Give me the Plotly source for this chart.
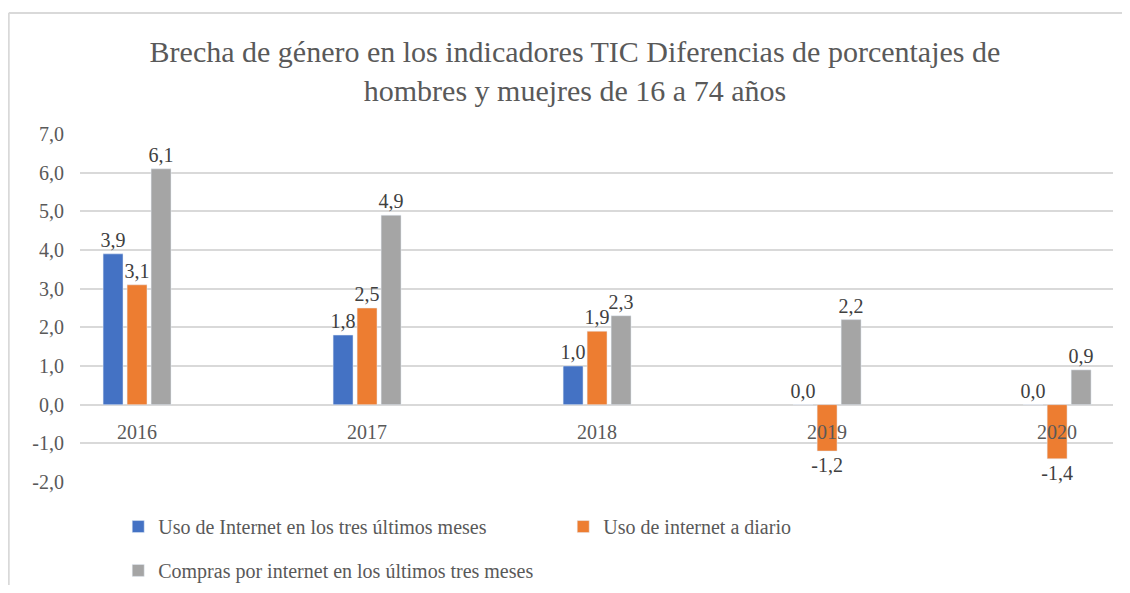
import plotly.graph_objects as go

years = ["2016", "2017", "2018", "2019", "2020"]
uso_3_meses = [3.9, 1.8, 1.0, 0.0, 0.0]
uso_diario = [3.1, 2.5, 1.9, -1.2, -1.4]
compras_3_meses = [6.1, 4.9, 2.3, 2.2, 0.9]

series_names = [
    "Uso de Internet en los tres últimos meses",
    "Uso de internet a diario",
    "Compras por internet en los últimos tres meses",
]
colors = ["#4472C4", "#ED7D31", "#A5A5A5"]
y_ticks = [-2, -1, 0, 1, 2, 3, 4, 5, 6, 7]
y_ticktext = [f"{v:.1f}".replace(".", ",") for v in y_ticks]

SERIF = "Liberation Serif"

fig = go.Figure()
for vals, name, col, leg in zip(
    [uso_3_meses, uso_diario, compras_3_meses], series_names, colors,
    ["legend", "legend", "legend2"]
):
    fig.add_trace(go.Bar(
        x=years, y=vals, name=name, marker_color=col, legend=leg,
        texttemplate="%{y:.1f}", textposition="outside", constraintext="none",
        cliponaxis=False,
        textfont=dict(family=SERIF, size=20, color="#404040"),
    ))

# the page adds an 8px body margin, so figure coords = page coords - 8
frame = dict(color="#D9D9D9", width=2)
fig.update_layout(
    width=1122, height=577,
    separators=",.",
    paper_bgcolor="white", plot_bgcolor="white",
    margin=dict(l=72, r=17, t=126, b=103, autoexpand=False),
    barmode="group", bargap=0.687, bargroupgap=0.17,
    title=dict(
        text="Brecha de género en los indicadores TIC Diferencias de porcentajes de<br>hombres y muejres de 16 a 74 años",
        x=0.5053, xanchor="center", y=0.907, yanchor="middle",
        font=dict(family=SERIF, size=30, color="#595959"),
    ),
    font=dict(family=SERIF, color="#595959"),
    xaxis=dict(
        type="category", range=[-0.248, 4.243], anchor="free", position=2 / 9,
        showline=False, showgrid=False, ticks="", ticklabelstandoff=13,
        automargin=False,
        tickfont=dict(family=SERIF, size=20, color="#595959"),
    ),
    yaxis=dict(
        range=[-2, 7], tickvals=y_ticks, ticktext=y_ticktext,
        showgrid=True, gridcolor="#D9D9D9", gridwidth=1.5,
        zeroline=False, showline=False, ticks="", ticklabelstandoff=15,
        automargin=False,
        tickfont=dict(family=SERIF, size=20, color="#595959"),
    ),
    legend=dict(
        orientation="h", x=0.037, xanchor="left", y=-0.072, yanchor="top",
        entrywidth=400, entrywidthmode="pixels",
        font=dict(family=SERIF, size=20, color="#595959"),
    ),
    legend2=dict(
        orientation="h", x=0.037, xanchor="left", y=-0.198, yanchor="top",
        font=dict(family=SERIF, size=20, color="#595959"),
    ),
    shapes=[
        dict(type="line", xref="paper", yref="paper",
             x0=-0.069, x1=1.05, y0=1.348, y1=1.348, line=frame, layer="below"),
        dict(type="line", xref="paper", yref="paper",
             x0=-0.069, x1=-0.069, y0=-0.6, y1=1.348, line=frame, layer="below"),
    ],
)

fig.write_html("out.html")
